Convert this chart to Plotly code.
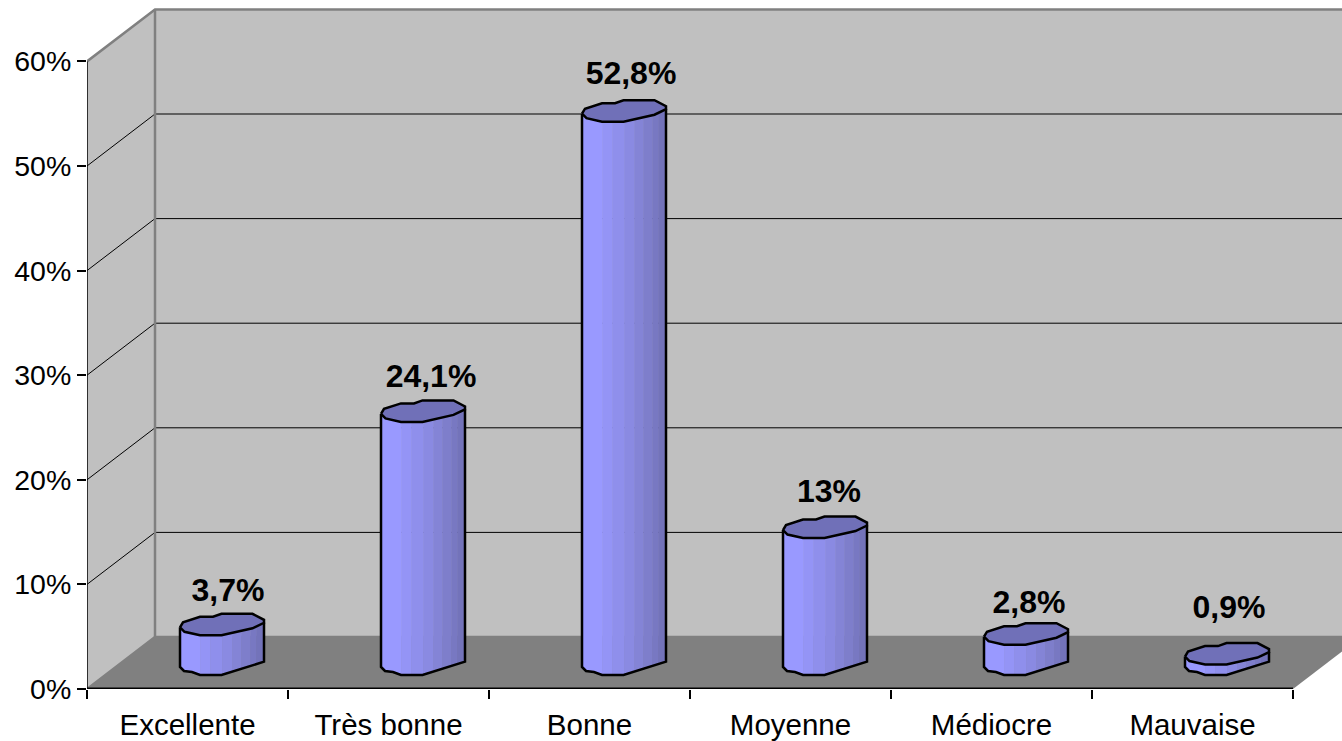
import numpy as np
import plotly.graph_objects as go

# ---- data ----
categories = ["Excellente", "Très bonne", "Bonne", "Moyenne", "Médiocre", "Mauvaise"]
values = [3.7, 24.1, 52.8, 13, 2.8, 0.9]
y_ticks = [0, 10, 20, 30, 40, 50, 60]

# ---- pixel scale of the 3-D look ----
PX_X = 201.0            # pixels per category
PX_Y = 10.46            # pixels per percent
DEPTH_X = 68 / PX_X     # depth offset, data units
DEPTH_Y = 52 / PX_Y
W, H = 1342, 741
ML, MB = 87, 52
X_MAX = (W - ML) / PX_X
Y_MAX = (H - MB) / PX_Y
N = len(categories)
Y_TOP = max(y_ticks)

WALL = "#C0C0C0"
FLOOR = "#808080"
CAP = "#7070B8"

# cylinder outline, pixels relative to the base centre (x right, y up)
CAP_BACK = [(-41.5, -3), (-38.5, 2), (-21.5, 7.5), (-8.5, 7.5), (0, 10.5), (31, 10.5), (42.5, 4.5)]
CAP_FRONT = [(42.5, 1.5), (31, -4), (0, -11), (-21.5, -11), (-37, -7.5), (-41.5, -3)]
BASE_FRONT = [(42.5, 1.3), (0, -12), (-21.5, -12), (-29.5, -9), (-37.5, -8), (-41.5, -4)]
STRIP_EDGES = [-41.5, -21, -11, 1, 11, 20, 29, 35, 42.5]
STRIP_COLORS = ["#9999FF", "#9494F6", "#8F8FEC", "#8A8AE2", "#8484D6",
                "#7E7ECB", "#7878C2", "#7373BA"]

fig = go.Figure()


def poly(xs, ys, fill=None, line=None, lw=0, mode="lines"):
    fig.add_trace(go.Scatter(
        x=xs, y=ys, mode=mode, hoverinfo="skip", showlegend=False,
        fill="toself" if fill else "none", fillcolor=fill,
        line=dict(color=line or "rgba(0,0,0,0)", width=lw),
    ))


# floor and walls
poly([0, N, N + DEPTH_X, DEPTH_X, 0], [0, 0, DEPTH_Y, DEPTH_Y, 0], fill=FLOOR)
poly([0, DEPTH_X, DEPTH_X, 0, 0],
     [0, DEPTH_Y, Y_TOP + DEPTH_Y, Y_TOP, 0], fill=WALL)
poly([DEPTH_X, N + DEPTH_X, N + DEPTH_X, DEPTH_X, DEPTH_X],
     [DEPTH_Y, DEPTH_Y, Y_TOP + DEPTH_Y, Y_TOP + DEPTH_Y, DEPTH_Y], fill=WALL)

# grid lines on the walls
gx, gy = [], []
for t in y_ticks[1:-1]:
    gx += [0, DEPTH_X, N + DEPTH_X, None]
    gy += [t, t + DEPTH_Y, t + DEPTH_Y, None]
poly(gx, gy, line="#000000", lw=1)

# wall borders
poly([0, DEPTH_X, N + DEPTH_X, None, DEPTH_X, DEPTH_X, None, 0, DEPTH_X, N + DEPTH_X],
     [Y_TOP, Y_TOP + DEPTH_Y, Y_TOP + DEPTH_Y, None, Y_TOP + DEPTH_Y, DEPTH_Y, None,
      0, DEPTH_Y, DEPTH_Y],
     line="#808080", lw=2.5)

# axis lines
poly([0, 0], [0, Y_TOP], line="#000000", lw=1.5)
poly([0, N], [0, 0], line="#000000", lw=3)


def arc(points, at):
    pts = sorted(points)
    return np.interp(at, [p[0] for p in pts], [p[1] for p in pts])


# cylinders
for i, v in enumerate(values):
    cx = i + 0.5 + DEPTH_X / 2
    cy = DEPTH_Y / 2
    X = lambda px: cx + np.asarray(px, float) / PX_X
    Y = lambda px, lift=0.0: cy + lift + np.asarray(px, float) / PX_Y
    # gradient strips of the body
    for k, color in enumerate(STRIP_COLORS):
        a, b = STRIP_EDGES[k], STRIP_EDGES[k + 1]
        sx = np.linspace(a, b, 6)
        bot = Y(arc(BASE_FRONT, sx))
        top = Y(arc(CAP_FRONT, sx), v)
        poly(list(X(sx)) + list(X(sx[::-1])) + [X(a)],
             list(bot) + list(top[::-1]) + [bot[0]], fill=color, line=color, lw=0.5)
    # body outline
    bx = [p[0] for p in BASE_FRONT]
    by = [p[1] for p in BASE_FRONT]
    poly([float(X(CAP_FRONT[0][0]))] + list(X(bx)) + [float(X(CAP_FRONT[-1][0]))],
         [float(Y(CAP_FRONT[0][1], v))] + list(Y(by)) + [float(Y(CAP_FRONT[-1][1], v))],
         line="#000000", lw=2.5)
    # top cap
    ring = CAP_BACK + CAP_FRONT + CAP_BACK[:1]
    poly(list(X([p[0] for p in ring])), list(Y([p[1] for p in ring], v)),
         fill=CAP, line="#000000", lw=2.5)

# value labels
LABEL_DX = [6.5, 8.5, 7.5, 4.5, 3.5, 2.5]
LABEL_DY = [31.5, 31.5, 34.5, 33.5, 28.5, 43.5]
fig.add_trace(go.Scatter(
    x=[i + 0.5 + DEPTH_X / 2 + LABEL_DX[i] / PX_X for i in range(N)],
    y=[DEPTH_Y / 2 + v + LABEL_DY[i] / PX_Y for i, v in enumerate(values)],
    text=[f"{v:g}".replace(".", ",") + "%" for v in values],
    mode="text", textposition="middle center", hoverinfo="skip", showlegend=False,
    textfont=dict(family="Liberation Sans", size=32, color="#000000", weight="bold"),
))

fig.update_layout(
    width=W, height=H, paper_bgcolor="#FFFFFF", plot_bgcolor="#FFFFFF",
    margin=dict(l=ML, r=0, t=0, b=MB, pad=0),
    font=dict(family="Liberation Sans", size=28.5, color="#000000"),
    showlegend=False,
    xaxis=dict(
        range=[0, X_MAX], showgrid=False, zeroline=False, showline=False,
        tickmode="array", tickvals=[i + 0.5 for i in range(N)], ticktext=categories,
        tickfont=dict(size=29.5),
        ticks="outside", ticklen=10, tickcolor="rgba(0,0,0,0)",
        minor=dict(tickmode="array", tickvals=list(range(N + 1)), ticks="outside",
                   ticklen=9, tickcolor="#000000", tickwidth=1.5, showgrid=False),
    ),
    yaxis=dict(
        range=[0, Y_MAX], showgrid=False, zeroline=False, showline=False,
        tickmode="array", tickvals=y_ticks, ticktext=[f"{t}%" for t in y_ticks],
        ticks="outside", ticklen=9, tickcolor="#000000", tickwidth=1.5,
    ),
)
fig.write_html("out.html", config={"displayModeBar": False},
               post_script="document.body.style.margin='0';document.body.style.overflow='hidden';")
